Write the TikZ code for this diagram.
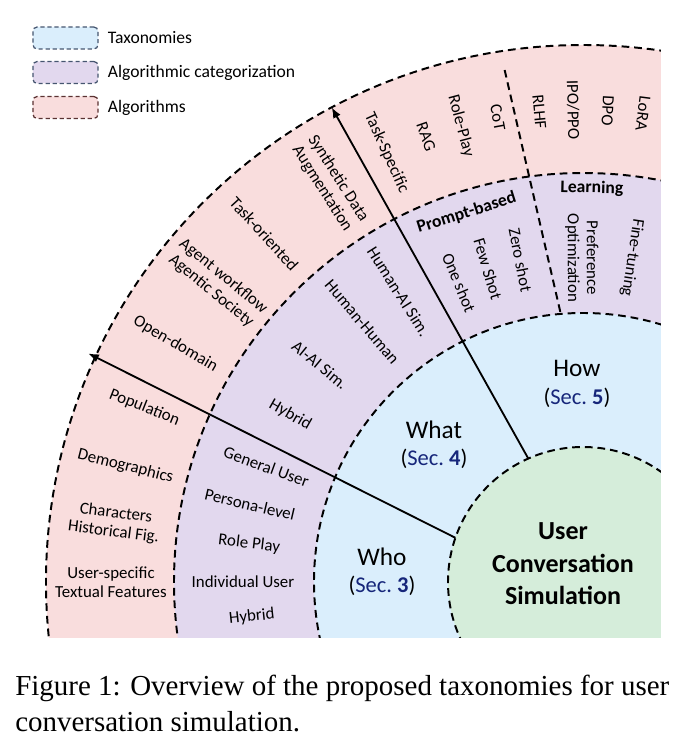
\documentclass[tikz,border=0pt]{standalone}
\usepackage{fontspec}
\setmainfont{Carlito}
\newfontfamily\capfont{Liberation Serif}
\usetikzlibrary{arrows.meta,positioning}

\definecolor{taxblue}{RGB}{218,238,252}
\definecolor{catpurple}{RGB}{226,216,238}
\definecolor{algpink}{RGB}{249,221,221}
\definecolor{coregreen}{RGB}{213,237,218}
\definecolor{secblue}{RGB}{22,38,122}
\definecolor{legblue}{RGB}{70,86,112}
\definecolor{legred}{RGB}{90,50,50}

\newcommand{\secno}[1]{{\fontsize{16}{19}\selectfont(\textcolor{secblue}{Sec.~\textbf{#1}})}}

\tikzset{
  ring/.style={draw=black,line width=1.4pt,dash pattern=on 5.5pt off 3.5pt},
  split/.style={line width=1.3pt,-{Latex[length=7.5pt,width=6pt]}},
  lbl/.style={font=\fontsize{12}{13.5}\selectfont,align=center,inner sep=0pt},
  hdr/.style={font=\fontsize{12.5}{14}\selectfont\bfseries,inner sep=0pt},
  blk/.style={font=\fontsize{18}{19.5}\selectfont,align=center,inner sep=0pt},
  core/.style={font=\fontsize{18.5}{23}\selectfont\bfseries,align=center,inner sep=0pt},
  legbox/.style={rounded corners=3pt,line width=0.9pt,dash pattern=on 3pt off 2pt,
    minimum width=1.625cm,minimum height=0.55cm,inner sep=0pt},
  legtxt/.style={font=\fontsize{12.5}{14}\selectfont,inner sep=0pt},
  captxt/.style={font=\capfont\fontsize{20.6}{25}\selectfont,anchor=base west,inner sep=0pt}
}

\begin{document}
\begin{tikzpicture}[x=0.025cm,y=0.025cm]
\useasboundingbox (-583,-169) rectangle (103,582);

% rings, cut at the page edge
\begin{scope}
\clip (-583,-55) rectangle (78,582);
\filldraw[ring,fill=algpink] (0,0) circle (537);
\filldraw[ring,fill=catpurple] (0,0) circle (409);
\filldraw[ring,fill=taxblue] (0,0) circle (269);
\filldraw[ring,fill=coregreen] (0,0) circle (135);
\end{scope}

% section borders
\coordinate (whoIn) at (160.9:135); \coordinate (whoOut) at (155.2:545);
\coordinate (howIn) at (113.9:135); \coordinate (howOut) at (117.9:537);
\coordinate (lrnTop) at (98.7:518); \coordinate (lrnBot) at (94.8:271);
\draw[split] (whoIn) -- (whoOut);
\draw[split] (howIn) -- (howOut);
\draw[ring] (lrnTop) -- (lrnBot);

% algorithms
\foreach \a/\t [count=\i] in {180/{User-specific\\Textual Features},172.8/{Characters\\Historical Fig.},
  165.8/Demographics,158.3/Population,149.7/Open-domain,140.8/{Agent workflow\\Agentic Society},
  132.5/Task-oriented,122.4/{Synthetic Data\\Augmentation},114.6/Task-Specific,109.4/RAG,
  105/Role-Play,100.4/CoT,95.3/RLHF,91.2/{IPO/PPO},87/DPO,82.7/LoRA}
  \node[lbl,rotate=\a-180] (alg\i) at (\a:472) {\t};

% algorithmic categorization
\foreach \a/\r/\t [count=\i] in {186/333/Hybrid,180/340/Individual User,173.5/336/Role Play,
  166.9/342/Persona-level,160/337/General User,150.3/337/Hybrid,140.5/341/AI-AI Sim.,
  130.4/341/Human-Human,122.4/344/Human-AI Sim.,112.5/324/One shot,106.9/327/Few Shot,
  101/328/Zero shot,90.2/324/{Preference\\Optimization},81.4/328/Fine-tuning}
  \node[lbl,rotate=\a-180] (cat\i) at (\a:\r) {\t};
\node[hdr,rotate=17.5] (prompt) at (107.5:387) {Prompt-based};
\node[hdr,rotate=-1.3] (learn) at (88.7:394) {Learning};

% taxonomies
\node[blk] (who) at (-201,10) {Who\\\secno{3}};
\node[blk] (what) at (-149,137) {What\\\secno{4}};
\node[blk] (how) at (-6,198) {How\\\secno{5}};
\node[core] (ucs) at (-20,18) {User\\Conversation\\Simulation};

% legend
\node[legbox,draw=legblue,fill=taxblue] (legtax) at (-517.5,544) {};
\node[legbox,draw=legblue,fill=catpurple] (legcat) at (-517.5,509.5) {};
\node[legbox,draw=legred,fill=algpink] (legalg) at (-517.5,474.5) {};
\node[legtxt,right=0.225cm of legtax] (legtaxt) {Taxonomies};
\node[legtxt,right=0.225cm of legcat] (legcatt) {Algorithmic categorization};
\node[legtxt,right=0.225cm of legalg] (legalgt) {Algorithms};

% caption
\node[captxt] (cap1) at (-568,-113) {Figure 1: Overview of the proposed taxonomies for user};
\node[captxt] (cap2) at (-568,-149) {conversation simulation.};
\end{tikzpicture}
\end{document}
